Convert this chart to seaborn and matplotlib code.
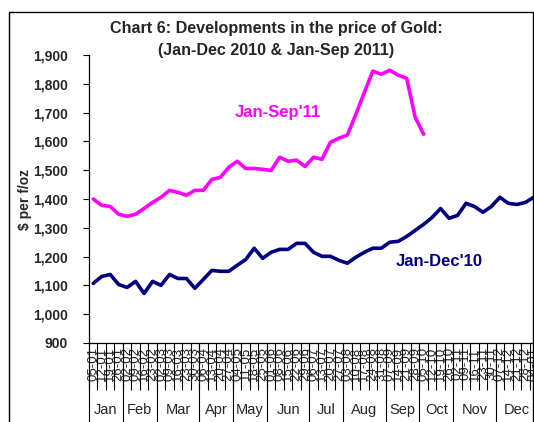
import numpy as np
import pandas as pd
import matplotlib
matplotlib.use("Agg")
import matplotlib.pyplot as plt
import matplotlib.transforms as mtransforms
from matplotlib.patches import Rectangle
import seaborn as sns

# ---- data ----
week_labels = [
    "05-01", "12-01", "19-01", "26-01",
    "02-02", "09-02", "16-02", "23-02",
    "02-03", "09-03", "16-03", "23-03", "30-03",
    "06-04", "13-04", "20-04", "27-04",
    "04-05", "11-05", "18-05", "25-05",
    "01-06", "08-06", "15-06", "22-06", "29-06",
    "06-07", "13-07", "20-07", "27-07",
    "03-08", "10-08", "17-08", "24-08", "31-08",
    "07-09", "14-09", "21-09", "28-09",
    "05-10", "12-10", "19-10", "26-10",
    "02-11", "09-11", "16-11", "23-11", "30-11",
    "07-12", "14-12", "21-12", "28-12", "04-01",
]
months = ["Jan", "Feb", "Mar", "Apr", "May", "Jun",
          "Jul", "Aug", "Sep", "Oct", "Nov", "Dec"]
month_counts = [4, 4, 5, 4, 4, 5, 4, 5, 4, 4, 5, 5]

gold_2010 = [1107, 1131, 1138, 1103, 1093, 1114, 1072, 1114, 1100, 1138,
             1124, 1124, 1090, 1121, 1152, 1149, 1149, 1170, 1190, 1229,
             1194, 1215, 1225, 1225, 1246, 1246, 1215, 1201, 1201, 1187,
             1177, 1198, 1215, 1229, 1229, 1250, 1253, 1270, 1291, 1312,
             1336, 1367, 1333, 1343, 1385, 1374, 1354, 1374, 1406, 1385,
             1381, 1388, 1406]
gold_2011 = [1400, 1378, 1374, 1347, 1340, 1347, 1367, 1388, 1406, 1430,
             1423, 1413, 1430, 1430, 1468, 1475, 1510, 1531, 1506, 1506,
             1503, 1499, 1545, 1531, 1535, 1513, 1545, 1538, 1597, 1611,
             1622, 1694, 1770, 1844, 1833, 1847, 1830, 1819, 1684, 1625]

y_ticks = [900, 1000, 1100, 1200, 1300, 1400, 1500, 1600, 1700, 1800, 1900]

# ---- style ----
sns.set_theme(style="ticks")
plt.rcParams["font.family"] = ["Liberation Sans", "DejaVu Sans"]

W, H = 534, 422
fig = plt.figure(figsize=(W / 100, H / 100), dpi=100)
fig.patch.set_facecolor("white")

ax_left, ax_right = 89, 538
ax_top, ax_bottom = 55, 343
ax = fig.add_axes([ax_left / W, 1 - ax_bottom / H,
                   (ax_right - ax_left) / W, (ax_bottom - ax_top) / H])

df10 = pd.DataFrame({"idx": np.arange(len(gold_2010)), "price": gold_2010})
df11 = pd.DataFrame({"idx": np.arange(len(gold_2011)), "price": gold_2011})

sns.lineplot(data=df10, x="idx", y="price", ax=ax, color="#000080",
             linewidth=2.6)
sns.lineplot(data=df11, x="idx", y="price", ax=ax, color="#FF00FF",
             linewidth=2.6)

n = len(week_labels)
ax.set_xlim(-0.5, n - 0.5)
ax.set_ylim(900, 1900)
ax.set_yticks(y_ticks)
ax.set_yticklabels([f"{v:,}" for v in y_ticks], fontsize=10,
                   fontweight="bold")
ax.tick_params(axis="y", direction="out", length=4, width=0.8,
               color="black", pad=11)

ax.set_xticks(np.arange(n))
ax.set_xticklabels(week_labels, rotation=90, fontsize=9.5)
ax.tick_params(axis="x", which="major", length=0, pad=3)
ax.set_xticks(np.arange(n + 1) - 0.5, minor=True)
ax.tick_params(axis="x", which="minor", direction="out", length=34,
               width=0.8, color="black")

for side in ["top", "right"]:
    ax.spines[side].set_visible(False)
for side in ["left", "bottom"]:
    ax.spines[side].set_color("black")
    ax.spines[side].set_linewidth(0.9)

ax.set_xlabel("")
ax.set_ylabel("$ per f/oz", fontsize=10, fontweight="bold")
ax.yaxis.set_label_coords(-0.128, 0.5)

# month groups
trans = mtransforms.blended_transform_factory(ax.transData, ax.transAxes)
start = 0
bounds = [-0.5]
for m, c in zip(months, month_counts):
    center = start + (c - 1) / 2
    ax.text(center, -0.233, m, transform=trans, ha="center", va="center",
            fontsize=10.5, clip_on=False)
    start += c
    bounds.append(start - 0.5)
for b in bounds:
    ax.plot([b, b], [0, -0.4], transform=trans, color="black", lw=0.8,
            clip_on=False)

# annotations
fig.text(235 / W, 1 - 112 / H, "Jan-Sep'11", color="#FF00FF",
         fontsize=12, fontweight="bold", ha="left", va="center")
fig.text(396 / W, 1 - 262 / H, "Jan-Dec'10", color="#000080",
         fontsize=12, fontweight="bold", ha="left", va="center")

# title
fig.text(276 / W, 1 - 28 / H, "Chart 6: Developments in the price of Gold:",
         fontsize=11.6, fontweight="bold", ha="center", va="center")
fig.text(276 / W, 1 - 50 / H, "(Jan-Dec 2010 & Jan-Sep 2011)",
         fontsize=11.6, fontweight="bold", ha="center", va="center")

# chart frame
fig.patches.append(Rectangle((9 / W, -0.1), (533 - 9) / W,
                             (1 - 12 / H) + 0.1,
                             transform=fig.transFigure, fill=False,
                             edgecolor="black", linewidth=1.0))

fig.savefig("out.png", dpi=100)
